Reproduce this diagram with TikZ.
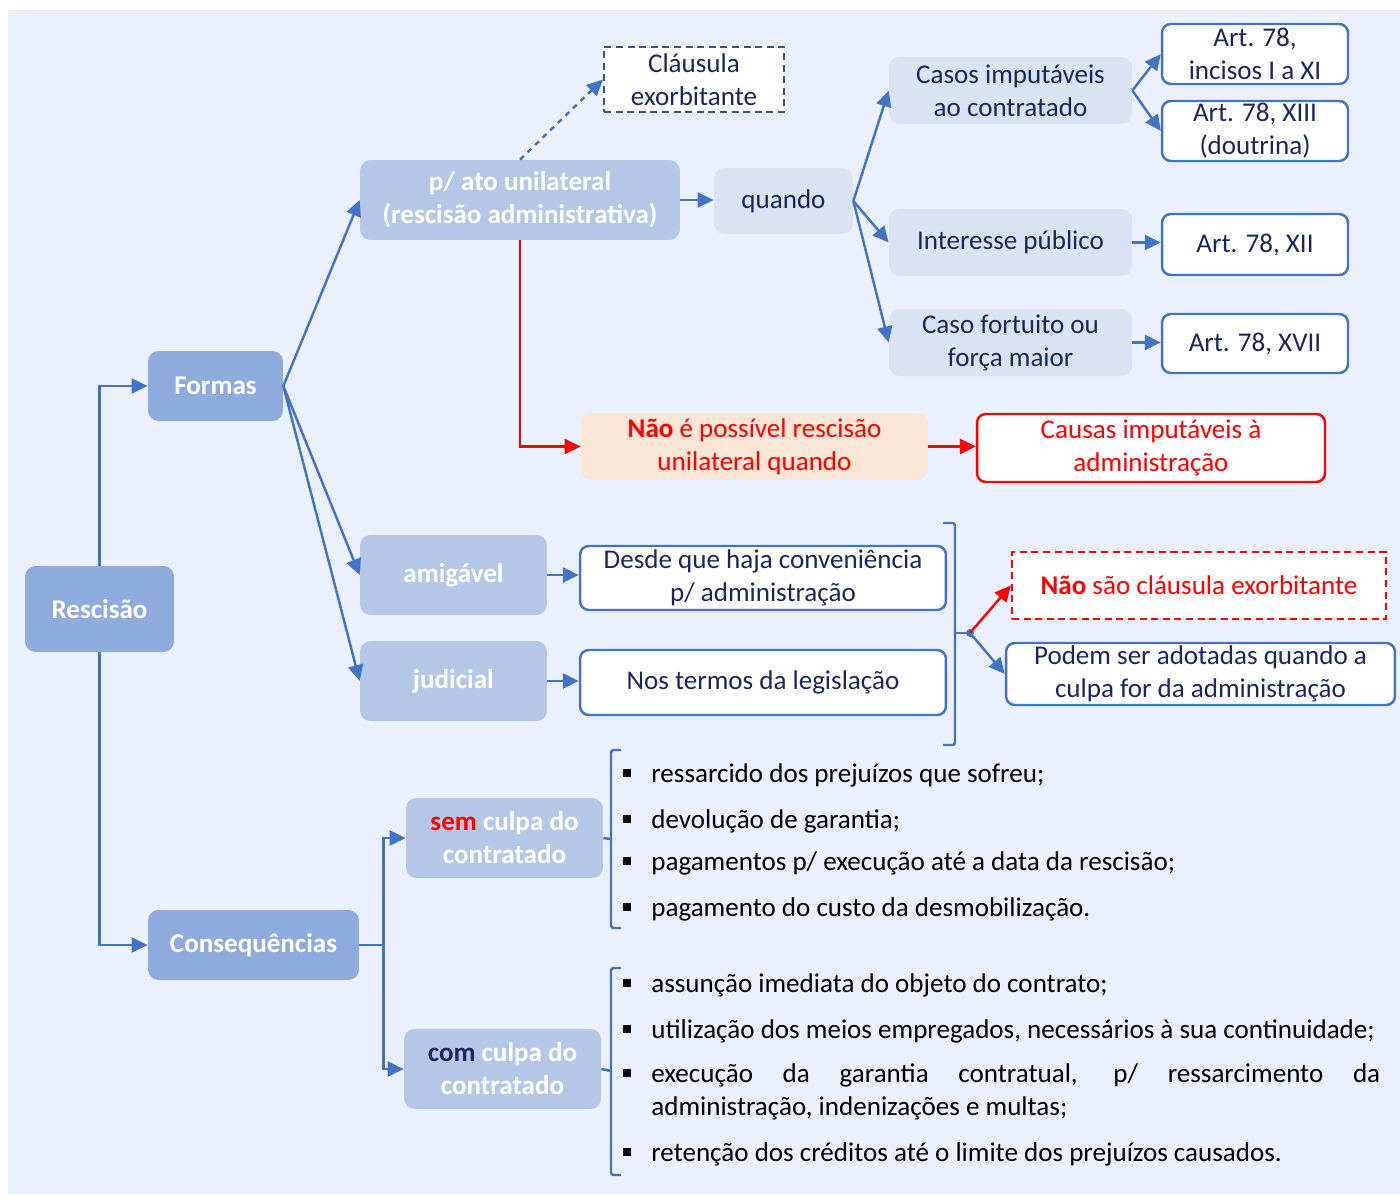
\documentclass[tikz,border=0pt]{standalone}
\usepackage{fontspec}
\setmainfont{Carlito}
\usepackage{xcolor}
\usetikzlibrary{arrows.meta,positioning}
\definecolor{bgblue}{RGB}{234,241,253}
\definecolor{rootblue}{RGB}{143,170,220}
\definecolor{branchblue}{RGB}{180,199,231}
\definecolor{paleblue}{RGB}{218,227,243}
\definecolor{peach}{RGB}{251,229,214}
\definecolor{lineblue}{RGB}{68,114,196}
\definecolor{dashblue}{RGB}{47,85,151}
\definecolor{navytext}{RGB}{24,40,94}
\definecolor{alertred}{RGB}{255,0,0}
\newcommand{\diagfont}{\fontsize{15.4}{18.8}\selectfont}
\tikzset{
  basebox/.style={
    rectangle,
    inner sep=0pt,
    align=center,
    font=\diagfont
  },
  rootbox/.style={
    basebox,
    rounded corners=6pt,
    fill=rootblue,
    text=white,
    font=\diagfont\bfseries
  },
  branchbox/.style={
    rootbox,
    fill=branchblue
  },
  palebox/.style={
    basebox,
    rounded corners=6pt,
    fill=paleblue,
    text=navytext
  },
  refbox/.style={
    basebox,
    rounded corners=5pt,
    draw=lineblue,
    line width=1.4pt,
    fill=white,
    text=navytext
  },
  dashbox/.style={
    basebox,
    draw=dashblue,
    line width=1.3pt,
    dash pattern=on 4pt off 2.6pt,
    fill=white,
    text=navytext
  },
  listitem/.style={
    anchor=west,
    inner sep=0pt,
    font=\diagfont,
    text=black
  },
  bulletsq/.style={
    rectangle,
    fill=black,
    inner sep=0pt,
    minimum size=0.15cm
  },
  link/.style={
    -{Triangle[length=3.2mm,width=3mm]},
    line width=1.4pt,
    draw=lineblue
  },
  redlink/.style={
    link,
    draw=alertred
  },
  bracketline/.style={
    line width=1.4pt,
    draw=lineblue,
    rounded corners=1.5pt
  }
}

\begin{document}
\begin{tikzpicture}[x=0.02cm,y=-0.02cm]
\useasboundingbox (0,0) rectangle (1400,1194);
\fill[bgblue] (8,10) rectangle (1400,1194);

% main branches
\node[rootbox, minimum width=2.98cm, minimum height=1.72cm] (resc) at (99.5,609) {Rescisão};
\node[rootbox, minimum width=2.7cm, minimum height=1.4cm] (formas) at (215.5,386) {Formas};
\node[rootbox, minimum width=4.22cm, minimum height=1.4cm] (conseq) at (253.5,945) {Consequências};

% formas
\node[branchbox, minimum width=6.4cm, minimum height=1.6cm] (unilat) at (520,200) {p/ ato unilateral\\(rescisão administrativa)};
\node[branchbox, minimum width=3.74cm, minimum height=1.6cm] (amig) at (453.5,575) {amigável};
\node[branchbox, minimum width=3.74cm, minimum height=1.6cm] (judic) at (453.5,681) {judicial};
\node[dashbox, minimum width=3.6cm, minimum height=1.3cm] (clausula) at (694,79.5) {Cláusula\\exorbitante};
\node[palebox, minimum width=2.78cm, minimum height=1.32cm] (quando) at (783.5,201) {quando};
\node[palebox, minimum width=4.86cm, minimum height=1.34cm] (casos) at (1010.5,90.5) {Casos imputáveis\\ao contratado};
\node[palebox, minimum width=4.86cm, minimum height=1.34cm] (interesse) at (1010.5,242.5) {Interesse público};
\node[palebox, minimum width=4.86cm, minimum height=1.34cm] (fortuito) at (1010.5,342.5) {Caso fortuito ou\\força maior};
\node[refbox, minimum width=3.72cm, minimum height=1.2cm] (artA) at (1255,54) {Art. 78,\\incisos I a XI};
\node[refbox, minimum width=3.72cm, minimum height=1.2cm] (artB) at (1255,131) {Art. 78, XIII\\(doutrina)};
\node[refbox, minimum width=3.72cm, minimum height=1.22cm] (artC) at (1255,244.5) {Art. 78, XII};
\node[refbox, minimum width=3.72cm, minimum height=1.18cm] (artD) at (1255,343.5) {Art. 78, XVII};
\node[basebox, rounded corners=6pt, fill=peach, text=alertred, minimum width=6.94cm, minimum height=1.34cm] (naopode) at (754.5,446.5) {\textbf{Não} é possível rescisão\\unilateral quando};
\node[refbox, draw=alertred, text=alertred, minimum width=6.96cm, minimum height=1.36cm] (causas) at (1151,448) {Causas imputáveis à\\administração};
\node[refbox, minimum width=7.32cm, minimum height=1.28cm] (desde) at (763,578) {Desde que haja conveniência\\p/ administração};
\node[refbox, minimum width=7.32cm, minimum height=1.3cm] (termos) at (763,682.5) {Nos termos da legislação};
\node[dashbox, draw=alertred, text=alertred, minimum width=7.48cm, minimum height=1.34cm] (naosao) at (1199,585.5) {\textbf{Não} são cláusula exorbitante};
\node[refbox, minimum width=7.78cm, minimum height=1.24cm] (podem) at (1200.5,674) {Podem ser adotadas quando a\\culpa for da administração};

% consequencias
\node[branchbox, minimum width=3.94cm, minimum height=1.6cm] (sem) at (504.5,838) {{\color{alertred}sem} culpa do\\contratado};
\node[branchbox, minimum width=3.94cm, minimum height=1.6cm] (com) at (502.5,1069) {{\color{navytext}com} culpa do\\contratado};

\node[bulletsq] (bs1) at (627,773) {};
\node[listitem] (s1) at (651,775) {ressarcido dos prejuízos que sofreu;};
\node[bulletsq] (bs2) at (627,819) {};
\node[listitem] (s2) at (651,821) {devolução de garantia;};
\node[bulletsq] (bs3) at (627,861) {};
\node[listitem] (s3) at (651,863) {pagamentos p/ execução até a data da rescisão;};
\node[bulletsq] (bs4) at (627,907) {};
\node[listitem] (s4) at (651,909) {pagamento do custo da desmobilização.};

\node[bulletsq] (bc1) at (627,983) {};
\node[listitem] (c1) at (651,985) {assunção imediata do objeto do contrato;};
\node[bulletsq] (bc2) at (627,1029) {};
\node[listitem] (c2) at (651,1031) {utilização dos meios empregados, necessários à sua continuidade;};
\node[bulletsq] (bc3) at (627,1073) {};
\node[listitem, text width=14.58cm, align=justify] (c3) at (651,1091.5) {execução da garantia contratual, p/ ressarcimento da\linebreak administração, indenizações e multas;};
\node[bulletsq] (bc4) at (627,1152) {};
\node[listitem] (c4) at (651,1154) {retenção dos créditos até o limite dos prejuízos causados.};

% connectors
\draw[link] (resc.north) |- (formas.west);
\draw[link] (resc.south) |- (conseq.west);
\draw[link] (formas.east) -- (unilat.west);
\draw[link] (formas.east) -- (amig.west);
\draw[link] (formas.east) -- (judic.west);
\draw[link] (unilat.east) -- (unilat.east -| quando.west);
\draw[link, dashed] (unilat.north) -- (clausula.west);
\draw[redlink] (unilat.south) |- (naopode.west);
\draw[redlink] (naopode.east) -- (naopode.east -| causas.west);
\draw[link] (quando.east) -- (casos.west);
\draw[link] (quando.east) -- (interesse.west);
\draw[link] (quando.east) -- (fortuito.west);
\draw[link] (casos.east) -- (artA.west);
\draw[link] (casos.east) -- (artB.west);
\draw[link] (interesse.east) -- (interesse.east -| artC.west);
\draw[link] (fortuito.east) -- (fortuito.east -| artD.west);
\draw[link] (amig.east) -- (amig.east -| desde.west);
\draw[link] (judic.east) -- (judic.east -| termos.west);

% brace to the right of amigavel / judicial
\draw[bracketline] (943,523) -- (955,523) -- (955,745) -- (943,745);
\coordinate (hub) at (970,633);
\draw[bracketline] (955,633) -- (hub);
\fill[lineblue] (hub) circle (4);
\draw[redlink] (hub) -- (naosao.west);
\draw[link] (hub) -- (podem.west);

% consequencias split
\draw[link, -] (conseq.east) -- ++(24,0) coordinate (split);
\draw[link] (split) |- (sem.west);
\draw[link] (split) |- (com.west);

% list brackets
\draw[bracketline] (621,750) -- (611,750) -- (611,928) -- (621,928);
\draw[bracketline] (sem.east) -- (611,839);
\draw[bracketline] (621,968) -- (611,968) -- (611,1175) -- (621,1175);
\draw[bracketline] (com.east) -- (611,1071);
\end{tikzpicture}
\end{document}
